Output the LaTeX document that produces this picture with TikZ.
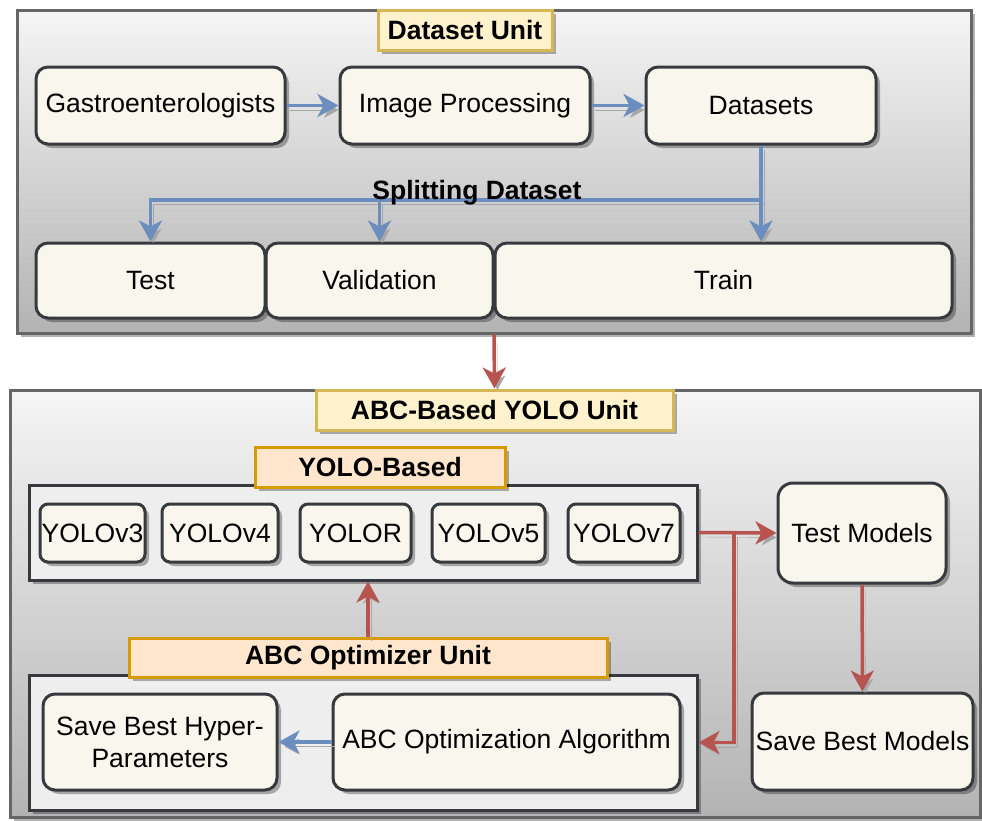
\documentclass[tikz,border=0pt]{standalone}
\usepackage{fontspec}
\setmainfont{Liberation Sans}
\usetikzlibrary{arrows.meta,shadows}

\definecolor{unittop}{HTML}{F5F5F5}
\definecolor{unitbot}{HTML}{B3B3B3}
\definecolor{unitline}{HTML}{666666}
\definecolor{cardfill}{HTML}{F9F7ED}
\definecolor{cardline}{HTML}{36393D}
\definecolor{groupfill}{HTML}{EEEEEE}
\definecolor{tagfill}{HTML}{FFF2CC}
\definecolor{tagline}{HTML}{D6B656}
\definecolor{subfill}{HTML}{FFE6CC}
\definecolor{subline}{HTML}{D79B00}
\definecolor{flowblue}{HTML}{6C8EBF}
\definecolor{flowred}{HTML}{B85450}

\begin{document}
\begin{tikzpicture}[x=1pt,y=-1pt,
  txt/.style={font=\fontsize{26.5pt}{32pt}\selectfont},
  shade/.style={drop shadow={shadow xshift=4pt,shadow yshift=-4pt,opacity=0.3,fill=black}},
  unit/.style={draw=unitline,line width=3pt,top color=unittop,bottom color=unitbot,shade},
  group/.style={draw=cardline,line width=3pt,fill=groupfill,shade},
  card/.style={txt,draw=cardline,line width=3pt,fill=cardfill,rounded corners=12pt,
    inner sep=0pt,align=center,shade},
  tag/.style={txt,font=\fontsize{26.5pt}{32pt}\selectfont\bfseries,draw=tagline,line width=3pt,
    fill=tagfill,inner sep=0pt,shade},
  subtag/.style={tag,draw=subline,fill=subfill},
  flow/.style={line width=3.5pt,-{Stealth[length=21pt,width=23pt,inset=6pt]},
    preaction={draw=black!35,transform canvas={shift={(3pt,-4.5pt)}}}},
  blueflow/.style={flow,draw=flowblue},
  redflow/.style={flow,draw=flowred}]
  \useasboundingbox (0,0) rectangle (982,820);

  %dataset unit
  \node[unit,minimum width=954pt,minimum height=323pt] (dsunit) at (494,171.5) {};
  \node[tag,minimum width=174pt,minimum height=40pt] (dstag) at (465,30) {Dataset Unit};

  \node[card,minimum width=249pt,minimum height=77pt] (gastro) at (160.5,105.5) {Gastroenterologists};
  \node[card,minimum width=250pt,minimum height=77pt] (improc) at (465,105.5) {Image Processing};
  \node[card,minimum width=230pt,minimum height=77pt] (datasets) at (761,105.5) {Datasets};

  \node[card,minimum width=229pt,minimum height=75pt] (test) at (150.5,280.5) {Test};
  \node[card,minimum width=227pt,minimum height=75pt] (valid) at (379.5,280.5) {Validation};
  \node[card,minimum width=457pt,minimum height=75pt] (train) at (723.5,280.5) {Train};

  %splitting
  \coordinate (splitlevel) at (0,200);
  \coordinate (split) at (datasets.south |- splitlevel);
  \draw[blueflow] (gastro) -- (improc);
  \draw[blueflow] (improc) -- (datasets);
  \draw[blueflow] (datasets.south) -- (split) -| (test.north);
  \draw[blueflow] (datasets.south) -- (split) -| (valid.north);
  \draw[blueflow] (datasets.south) -- (datasets.south |- train.north);
  \node[txt,font=\fontsize{26.5pt}{32pt}\selectfont\bfseries,anchor=base,inner sep=0pt]
    (splitlbl) at (477,199) {Splitting Dataset};

  %abc-based yolo unit
  \node[unit,minimum width=970pt,minimum height=427pt] (yolounit) at (495,603.5) {};
  \node[tag,minimum width=357pt,minimum height=40pt] (abcyolo) at (494.5,410) {ABC-Based YOLO Unit};
  \draw[redflow] (dsunit.south) -- (abcyolo.north);

  %yolo models
  \node[group,minimum width=668pt,minimum height=95pt] (yologrp) at (363,532.5) {};
  \node[subtag,minimum width=250pt,minimum height=40pt] (yolotag) at (380,467) {YOLO-Based};
  \foreach \n/\cx/\w/\t in {v3/92.5/105/YOLOv3,v4/220/116/YOLOv4,R/355.5/111/YOLOR,
      v5/488.5/113/YOLOv5,v7/624/112/YOLOv7}
    \node[card,rounded corners=8pt,minimum width=\w pt,minimum height=58pt] (yolo\n) at (\cx,533) {\t};

  \node[card,rounded corners=15pt,minimum width=168pt,minimum height=100pt] (testmodels) at (862,533) {Test Models};
  \node[card,minimum width=221pt,minimum height=97pt] (savemodels) at (862.5,741.5) {Save Best Models};

  %abc optimizer
  \node[group,minimum width=668pt,minimum height=135pt] (abcgrp) at (363,742.5) {};
  \node[subtag,minimum width=478pt,minimum height=39pt] (abctag) at (368,657.5) {ABC Optimizer Unit};
  \node[card,minimum width=234pt,minimum height=96pt] (savehyper) at (160,742) {Save Best Hyper-\\Parameters};
  \node[card,minimum width=347pt,minimum height=96pt] (abcalg) at (506.5,742) {ABC Optimization Algorithm};

  \coordinate (forkx) at (734,0);
  \draw[redflow] (yologrp.east) -- (testmodels.west);
  \draw[redflow] (yologrp.east -| forkx) |- (abcgrp.east);
  \draw[redflow] (testmodels) -- (savemodels);
  \draw[redflow] (abctag.north) -- (abctag.north |- yologrp.south);
  \draw[blueflow] (abcalg) -- (savehyper);
\end{tikzpicture}
\end{document}
